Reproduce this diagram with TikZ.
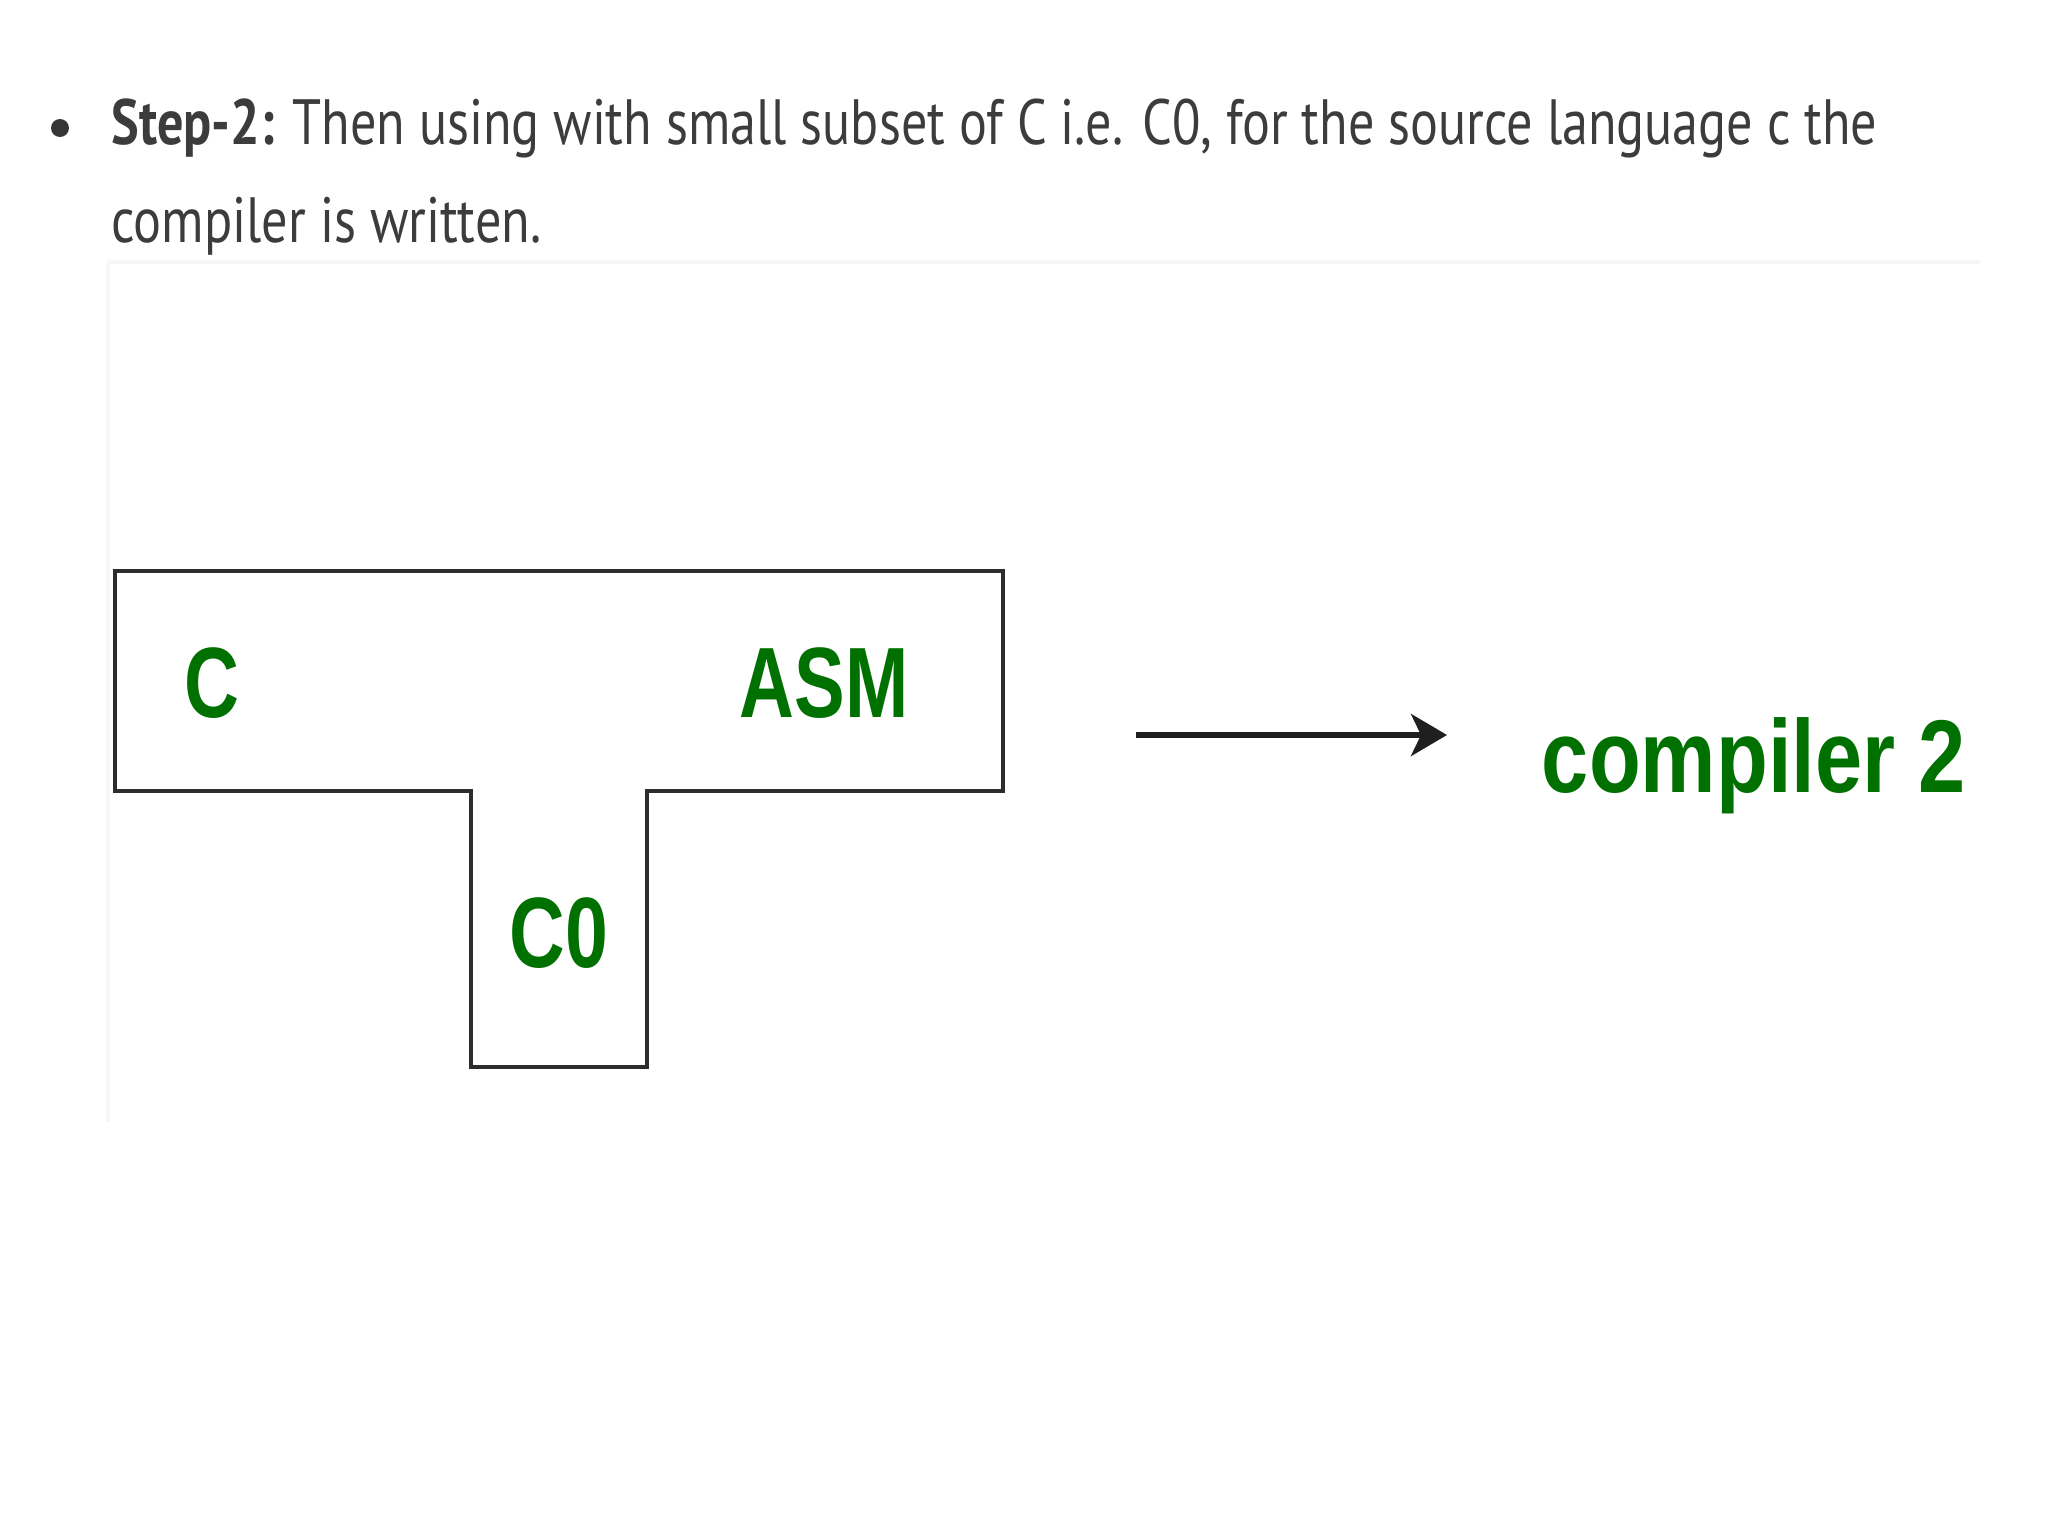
\documentclass[tikz,border=0pt]{standalone}
\usepackage{fontspec}
\usepackage{graphicx}
\setmainfont{PT Sans}
\newfontfamily\labfont{Liberation Sans}
\usetikzlibrary{arrows.meta}
\definecolor{txtgray}{RGB}{60,60,60}
\definecolor{lblgreen}{RGB}{0,112,0}
\definecolor{edgegray}{RGB}{45,45,45}
\definecolor{panelgray}{RGB}{246,246,246}
\tikzset{
  bodytext/.style={anchor=base west, inner sep=0pt, text=txtgray, font=\fontsize{32}{38}\selectfont},
  lbl/.style={anchor=base, inner sep=0pt, text=lblgreen, font=\labfont\bfseries\fontsize{50}{60}\selectfont},
  biglbl/.style={anchor=base, inner sep=0pt, text=lblgreen, font=\labfont\bfseries\fontsize{51.7}{62}\selectfont},
  tline/.style={draw=edgegray, line width=2.2pt, line join=miter},
  arrowline/.style={draw=black!88, line width=2.8pt, -{Stealth[length=18pt, width=21pt, inset=5pt]}},
  panel/.style={draw=panelgray, line width=2pt}
}
\begin{document}
\begin{tikzpicture}[x=0.5pt, y=-0.5pt]
\useasboundingbox (0,0) rectangle (2048,1536);
\fill[white] (0,0) rectangle (2048,1536);
% faint panel edges
\draw[panel] (108,262) -- (1980,262);
\draw[panel] (108,262) -- (108,1122);
% bullet text
\fill[txtgray!90!black] (60,128) circle[radius=9];
\node[bodytext] (line1) at (111,145) {\resizebox{883pt}{\height}{\textbf{Step-2:} Then using with small subset of C i.e. C0, for the source language c the}};
\node[bodytext] (line2) at (111,242) {\resizebox{215pt}{\height}{compiler is written.}};
% T diagram
\draw[tline] (115,571) -- (1003,571) -- (1003,791) -- (647,791) -- (647,1067) -- (471,1067) -- (471,791) -- (115,791) -- cycle;
\node[lbl] (c) at (212,717) {\scalebox{0.76}[1]{C}};
\node[lbl] (asm) at (824,717) {\scalebox{0.76}[1]{ASM}};
\node[lbl] (c0) at (559,967) {\scalebox{0.77}[1]{C0}};
% arrow and result
\coordinate (a1) at (1136,735);
\coordinate (a2) at (1447,735);
\draw[arrowline] (a1) -- (a2);
\node[biglbl] (comp) at (1754,792) {\scalebox{0.82}[1]{compiler 2}};
\end{tikzpicture}
\end{document}
